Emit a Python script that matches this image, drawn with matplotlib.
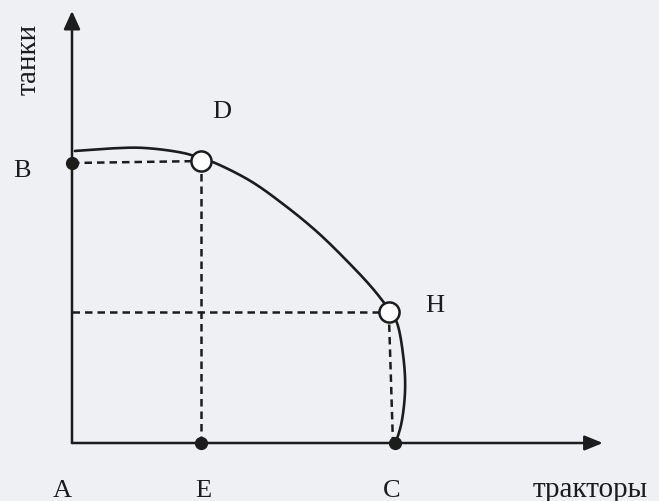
import matplotlib
matplotlib.use("Agg")
import matplotlib.pyplot as plt
import numpy as np

# ---- data (tractors on x, tanks on y, arbitrary units) ----
curve_x = [0.9, 12.0, 22.2, 34.7, 40.6, 44.2, 55.6, 65.9,
           76.6, 86.9, 94.1, 99.4, 101.5, 103.5,
           104.1, 103.0, 101.5, 100.9]
curve_y = [104.3, 105.2, 105.4, 103.6, 101.6, 100.25, 93.7, 85.4,
           75.4, 63.9, 55.0, 47.1, 43.1, 31.2,
           19.3, 7.4, 1.4, 0.0]

point_names = ["A", "B", "D", "H", "E", "C"]
point_x = [0.0, 0.0, 40.3, 99.0, 40.3, 100.9]
point_y = [0.0, 100.0, 100.7, 46.8, 0.0, 0.0]

x_label = "тракторы"
y_label = "танки"
x_axis_end = 165.9
y_axis_end = 154.3

bg = "#eef0f4"
ink = "#1c1c1c"

P = dict(zip(point_names, zip(point_x, point_y)))


def smooth_path(xs, ys, n=16):
    """Centripetal Catmull-Rom rendering through the read points (display smoothing only)."""
    pts = np.column_stack([xs, ys]).astype(float)
    pts = np.vstack([2 * pts[0] - pts[1], pts, 2 * pts[-1] - pts[-2]])
    out = []
    for i in range(1, len(pts) - 2):
        p0, p1, p2, p3 = pts[i - 1], pts[i], pts[i + 1], pts[i + 2]
        t0 = 0.0
        t1 = t0 + np.linalg.norm(p1 - p0) ** 0.5
        t2 = t1 + np.linalg.norm(p2 - p1) ** 0.5
        t3 = t2 + np.linalg.norm(p3 - p2) ** 0.5
        t = np.linspace(t1, t2, n, endpoint=False)[:, None]
        a1 = (t1 - t) / (t1 - t0) * p0 + (t - t0) / (t1 - t0) * p1
        a2 = (t2 - t) / (t2 - t1) * p1 + (t - t1) / (t2 - t1) * p2
        a3 = (t3 - t) / (t3 - t2) * p2 + (t - t2) / (t3 - t2) * p3
        b1 = (t2 - t) / (t2 - t0) * a1 + (t - t0) / (t2 - t0) * a2
        b2 = (t3 - t) / (t3 - t1) * a2 + (t - t1) / (t3 - t1) * a3
        c = (t2 - t) / (t2 - t1) * b1 + (t - t1) / (t2 - t1) * b2
        out.append(c)
    out.append(pts[-2][None, :])
    out = np.vstack(out)
    return out[:, 0], out[:, 1]


fig = plt.figure(figsize=(6.59, 5.02), dpi=100, facecolor=bg)
ax = fig.add_axes([0, 0, 1, 1])
ax.set_facecolor(bg)
ax.set_xlim(-72 / 3.2, (659 - 72) / 3.2)
ax.set_ylim(-(502 - 444) / 2.8, 444 / 2.8)
ax.axis("off")

# axes with arrows
ax.annotate("", xy=(x_axis_end, 0), xytext=(0, 0),
            arrowprops=dict(arrowstyle="-|>,head_length=1.1,head_width=0.45",
                            color=ink, lw=1.8, shrinkA=0, shrinkB=0))
ax.annotate("", xy=(0, y_axis_end), xytext=(0, 0),
            arrowprops=dict(arrowstyle="-|>,head_length=1.1,head_width=0.5",
                            color=ink, lw=1.8, shrinkA=0, shrinkB=0))

dash = (0, (3.0, 2.0))
dlw = 1.8
# dashed guide lines
ax.plot([P["B"][0], P["D"][0]], [P["B"][1], P["D"][1]], color=ink, lw=dlw, ls=dash)
ax.plot([P["D"][0], P["E"][0]], [P["D"][1], P["E"][1]], color=ink, lw=dlw, ls=dash)
ax.plot([0, P["H"][0]], [P["H"][1], P["H"][1]], color=ink, lw=dlw, ls=dash)
ax.plot([P["H"][0], P["C"][0] - 0.6], [P["H"][1], P["C"][1]], color=ink, lw=dlw, ls=dash)

# production possibility curve
sx, sy = smooth_path(curve_x, curve_y)
ax.plot(sx, sy, color=ink, lw=1.9, solid_joinstyle="round", solid_capstyle="round")

# filled points
for n in ["B", "E", "C"]:
    ax.plot(*P[n], "o", ms=8.5, color=ink, zorder=5)
# open points
for n in ["D", "H"]:
    ax.plot(*P[n], "o", ms=14.5, mfc="white", mec=ink, mew=1.8, zorder=6)

serif = ["Liberation Serif", "DejaVu Serif"]
lab = dict(family=serif, color=ink, fontsize=19, ha="center", va="baseline")
ax.text(-15.6, 95.4, "B", **lab)
ax.text(46.9, 116.4, "D", **lab)
ax.text(113.4, 47.1, "H", **lab)
ax.text(-3.1, -18.9, "A", **lab)
ax.text(40.9, -18.9, "E", **lab)
ax.text(100.0, -18.9, "C", **lab)
ax.text(162.0, -18.9, x_label, family=serif, color=ink, fontsize=21, ha="center", va="baseline")
ax.text(-13.4, 137.5, y_label, family=serif, color=ink, fontsize=21, ha="center", va="center",
        rotation=90)

fig.savefig("out.png", dpi=100, facecolor=bg)
